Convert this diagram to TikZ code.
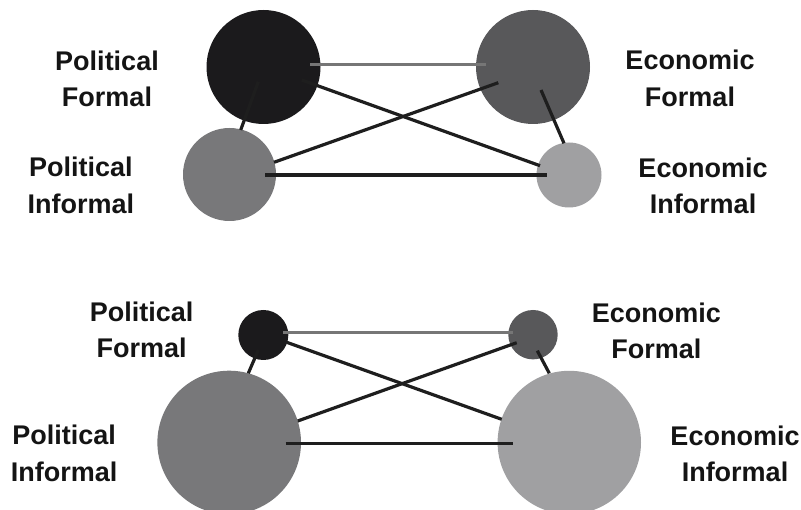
\documentclass[tikz,border=0pt]{standalone}
\usepackage{fontspec}
\setmainfont{Liberation Sans}
\usetikzlibrary{calc}
\definecolor{cPF}{HTML}{1B1A1C}
\definecolor{cEF}{HTML}{58585A}
\definecolor{cPI}{HTML}{78787A}
\definecolor{cEI}{HTML}{A0A0A2}
\definecolor{cLine}{HTML}{1E1E1E}
\definecolor{cGLine}{HTML}{767676}
\tikzset{
  blob/.style={circle,inner sep=0pt,draw=none},
  lbl/.style={align=center,inner sep=0pt,font=\fontsize{27}{36.5}\selectfont\bfseries,text=black!92},
  link/.style={line width=3.2pt,draw=cLine},
  glink/.style={line width=3.2pt,draw=cGLine}
}
\begin{document}
\begin{tikzpicture}[x=1pt,y=-1pt]
\useasboundingbox (0,0) rectangle (801,510);
% top diagram
\node[blob,fill=cPF,minimum size=114pt] (pf1) at (263.5,67) {};
\node[blob,fill=cEF,minimum size=114pt] (ef1) at (533,67) {};
\node[blob,fill=cPI,minimum size=93pt] (pi1) at (229.5,174.5) {};
\node[blob,fill=cEI,minimum size=65pt] (ei1) at (569,175) {};
\draw[glink] ($(pf1)+(46.5,-2.7)$) -- ($(ef1)+(-47.3,-2.7)$);
\draw[link] ($(pf1)+(38.2,13)$) -- ($(ei1)+(-29,-9.3)$);
\draw[link] ($(pi1)+(44.5,-12.2)$) -- ($(ef1)+(-34.7,15.7)$);
\draw[link] ($(pi1)+(35.5,0.5)$) -- ($(ei1)+(-22.3,0)$);
\draw[link] ($(pf1)+(-5.2,14.7)$) -- ($(pi1)+(11.2,-44.5)$);
\draw[link] ($(ef1)+(8,23)$) -- ($(ei1)+(-5,-31.7)$);
\node[lbl] (tpf) at (107,78.7) {Political\\Formal};
\node[lbl] (tpi) at (80.8,185.3) {Political\\Informal};
\node[lbl] (tef) at (690,78.3) {Economic\\Formal};
\node[lbl] (tei) at (703,185.7) {Economic\\Informal};
% bottom diagram
\node[blob,fill=cPF,minimum size=50pt] (pf2) at (263.3,335) {};
\node[blob,fill=cEF,minimum size=49.4pt] (ef2) at (533,334.7) {};
\node[blob,fill=cPI,minimum size=143.6pt] (pi2) at (229.2,442.5) {};
\node[blob,fill=cEI,minimum size=143.4pt] (ei2) at (569.3,442.5) {};
\draw[glink] ($(pf2)+(20,-2.7)$) -- ($(ef2)+(-20.3,-2.4)$);
\draw[link] ($(pf2)+(23.4,7.3)$) -- ($(ei2)+(-67.6,-23.2)$);
\draw[link] ($(pi2)+(68.5,-21.5)$) -- ($(ef2)+(-16.3,8)$);
\draw[link] ($(pi2)+(56.5,0.8)$) -- ($(ei2)+(-56,0.8)$);
\draw[link] ($(pf2)+(-5,15)$) -- ($(pi2)+(19.1,-69.2)$);
\draw[link] ($(ef2)+(4.3,16)$) -- ($(ei2)+(-20,-69.2)$);
\node[lbl] (bpf) at (141.7,329.7) {Political\\Formal};
\node[lbl] (bpi) at (64.2,453.3) {Political\\Informal};
\node[lbl] (bef) at (656.3,330.8) {Economic\\Formal};
\node[lbl] (bei) at (735,453.7) {Economic\\Informal};
\end{tikzpicture}
\end{document}
